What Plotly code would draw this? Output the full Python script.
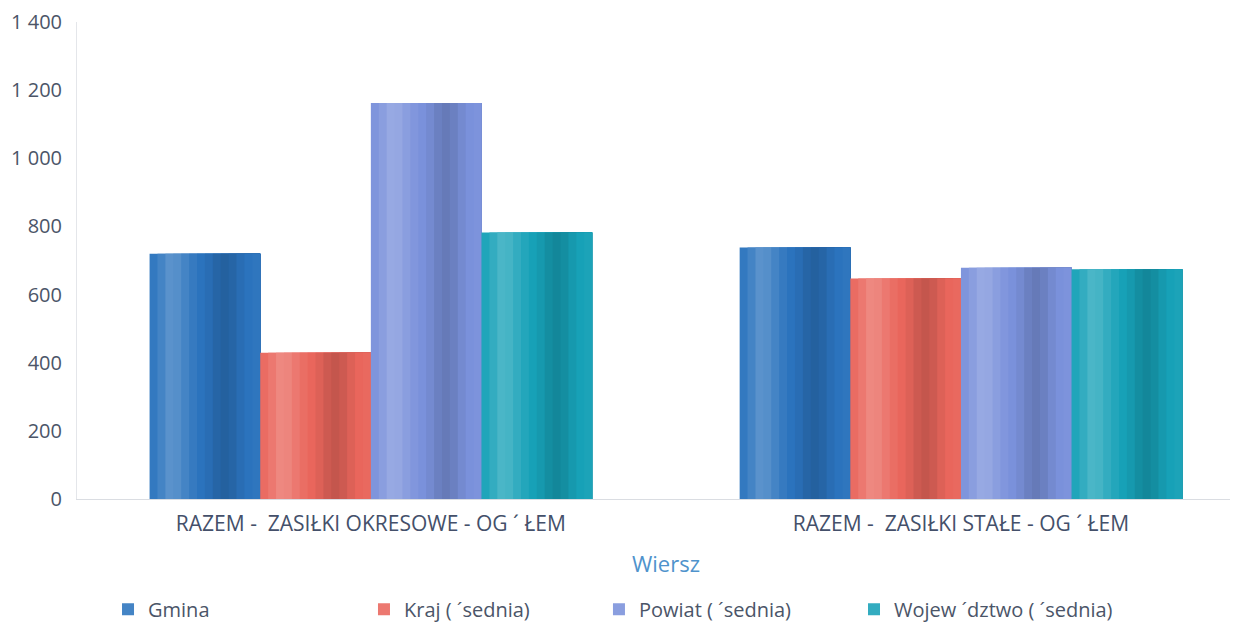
import plotly.graph_objects as go

categories = ["RAZEM -  ZASIŁKI OKRESOWE - OG ´ ŁEM", "RAZEM -  ZASIŁKI STAŁE - OG ´ ŁEM"]
series_names = ["Gmina", "Kraj ( ´sednia)", "Powiat ( ´sednia)", "Wojew ´dztwo ( ´sednia)"]
gmina = [720, 738]
kraj = [429, 647]
powiat = [1162, 679]
wojewodztwo = [782, 674]
y_ticks = [0, 200, 400, 600, 800, 1000, 1200, 1400]
x_title = "Wiersz"

base_colors = ["#2b73bd", "#e9665c", "#7a91db", "#17a1b7"]
values = [gmina, kraj, powiat, wojewodztwo]
legend_x = [0.0269, 0.2489, 0.4527, 0.6739]

# cylindrical shading profile across each bar (+ toward white, - toward black)
profile = [0.04, 0.12, 0.22, 0.2, 0.12, 0.05, 0.0, -0.05, -0.12, -0.16, -0.12, -0.05, 0.0, 0.02]


def shade(hexcol, f):
    h = hexcol.lstrip("#")
    r, g, b = int(h[0:2], 16), int(h[2:4], 16), int(h[4:6], 16)
    if f >= 0:
        r, g, b = [c + (255 - c) * f for c in (r, g, b)]
    else:
        r, g, b = [c * (1 + f) for c in (r, g, b)]
    return "rgb(%d,%d,%d)" % (round(r), round(g), round(b))


bargap = 0.25
n_series = len(values)
bar_w = (1 - bargap) / n_series
n_strips = len(profile)
step = bar_w / n_strips

fig = go.Figure()
legend_ids = ["legend", "legend2", "legend3", "legend4"]
for si, (name, vals, col) in enumerate(zip(series_names, values, base_colors)):
    start = -(1 - bargap) / 2 + si * bar_w
    for j, f in enumerate(profile):
        fig.add_trace(go.Bar(
            name=name, legendgroup=name, showlegend=(j == 4), legend=legend_ids[si],
            x=categories, y=vals,
            offset=start + j * step, width=(n_strips - j) * step,
            marker=dict(color=shade(col, f), line=dict(width=0)),
        ))

fig.add_annotation(text=x_title, xref="paper", yref="paper", x=0.511, y=-0.134,
                   xanchor="center", yanchor="middle", showarrow=False,
                   font=dict(size=22, color="#4f93cc"))

legend_common = dict(orientation="h", xanchor="left", y=-0.231, yanchor="middle",
                     font=dict(size=20, color="#4b5568"), bgcolor="rgba(0,0,0,0)")

fig.update_layout(
    width=1245, height=624,
    barmode="overlay",
    separators=", ",
    paper_bgcolor="white", plot_bgcolor="white",
    font=dict(family="Open Sans", size=19, color="#4b5568"),
    margin=dict(l=77, r=15, t=22, b=125, autoexpand=False),
    xaxis=dict(
        range=[-0.498, 1.456], showgrid=False, showline=True, linecolor="#dadde2", linewidth=1,
        ticks="", tickfont=dict(size=21, color="#44506a"), ticklabelstandoff=6, automargin=False,
    ),
    yaxis=dict(
        range=[0, 1400], tickvals=y_ticks, showgrid=False, zeroline=False,
        showline=True, linecolor="#e4e6ea", linewidth=1, ticks="", automargin=False,
        tickfont=dict(size=20, color="#4b5568"), tickformat=",d", ticklabelstandoff=10,
    ),
    legend=dict(x=legend_x[0], **legend_common),
    legend2=dict(x=legend_x[1], **legend_common),
    legend3=dict(x=legend_x[2], **legend_common),
    legend4=dict(x=legend_x[3], **legend_common),
)

fig.write_html("out.html", post_script="document.body.style.margin='0';",
               config={"displayModeBar": False})
